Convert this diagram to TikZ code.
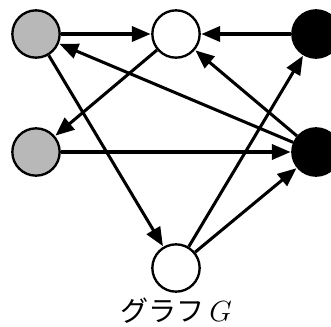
\documentclass[tikz,border=0pt]{standalone}
\usepackage{fontspec}
\newfontfamily\jpfont{Noto Sans CJK JP}
\usetikzlibrary{arrows.meta}
\begin{document}
\begin{tikzpicture}
      [x=0.3mm,y=0.3mm,
       vertex/.style={circle,draw,line width=2pt,minimum size=14.2mm,inner sep=0pt},
       grey/.style={vertex,fill=black!28},
       dark/.style={vertex,fill=black},
       light/.style={vertex,fill=white},
       edge/.style={line width=2.6pt,-{Triangle[length=16pt,width=13pt]},shorten >=0.5pt}]
        \useasboundingbox (0,0) rectangle (331,326);
        \node [grey]  (a) at (36,292)  {};
        \node [light] (b) at (176,292) {};
        \node [dark]  (c) at (316,292) {};
        \node [grey]  (d) at (36,174)  {};
        \node [dark]  (e) at (316,174) {};
        \node [light] (f) at (176,58)  {};
        \node (title) at (176,15) {\jpfont\fontsize{24pt}{28pt}\selectfont グラフ\,$G$};

        \draw [edge] (a) -- (b);
        \draw [edge] (c) -- (b);
        \draw [edge] (b) -- (d);
        \draw [edge] (d) -- (e);
        \draw [edge] (e) -- (a);
        \draw [edge] (e) -- (b);
        \draw [edge] (a) -- (f);
        \draw [edge] (f) -- (c);
        \draw [edge] (f) -- (e);
      \end{tikzpicture}
\end{document}
